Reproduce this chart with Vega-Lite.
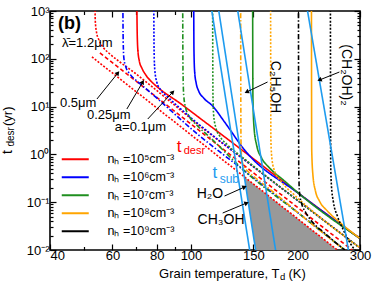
{
"$schema":"https://vega.github.io/schema/vega-lite/v6.json",
"width":310,"height":239,
"autosize":{"type":"none"},
"padding":{"left":50,"top":11,"right":16,"bottom":37},
"background":"white",
"config":{"view":{"stroke":"black","strokeWidth":1.6},"axis":{"domain":false,"grid":false,"tickColor":"black","tickWidth":1.2,"labelColor":"black","labelFont":"Liberation Sans","labelFontSize":13},"text":{"font":"Liberation Sans"}},
"datasets":{
"curves":[
{"id":"rS","nH":"nₕ =10⁵cm⁻³","case":"S","T":70.34,"t":1500},{"id":"rS","nH":"nₕ =10⁵cm⁻³","case":"S","T":70.48,"t":400},{"id":"rS","nH":"nₕ =10⁵cm⁻³","case":"S","T":70.8,"t":152.8},{"id":"rS","nH":"nₕ =10⁵cm⁻³","case":"S","T":71.49,"t":89.9},{"id":"rS","nH":"nₕ =10⁵cm⁻³","case":"S","T":72.66,"t":64.2},{"id":"rS","nH":"nₕ =10⁵cm⁻³","case":"S","T":74.57,"t":45.8},{"id":"rS","nH":"nₕ =10⁵cm⁻³","case":"S","T":77.52,"t":32.7},{"id":"rS","nH":"nₕ =10⁵cm⁻³","case":"S","T":81.65,"t":23.35},{"id":"rS","nH":"nₕ =10⁵cm⁻³","case":"S","T":92.93,"t":11.89},{"id":"rS","nH":"nₕ =10⁵cm⁻³","case":"S","T":105.81,"t":5.77},{"id":"rS","nH":"nₕ =10⁵cm⁻³","case":"S","T":141.7,"t":1.122},{"id":"rS","nH":"nₕ =10⁵cm⁻³","case":"S","T":202.4,"t":0.1484},{"id":"rS","nH":"nₕ =10⁵cm⁻³","case":"S","T":298.7,"t":0.01782},
{"id":"rD","nH":"nₕ =10⁵cm⁻³","case":"D","T":53.57,"t":1500},{"id":"rD","nH":"nₕ =10⁵cm⁻³","case":"D","T":53.68,"t":648},{"id":"rD","nH":"nₕ =10⁵cm⁻³","case":"D","T":54.1,"t":363.7},{"id":"rD","nH":"nₕ =10⁵cm⁻³","case":"D","T":54.98,"t":247.4},{"id":"rD","nH":"nₕ =10⁵cm⁻³","case":"D","T":56.42,"t":176.5},{"id":"rD","nH":"nₕ =10⁵cm⁻³","case":"D","T":59.04,"t":126},{"id":"rD","nH":"nₕ =10⁵cm⁻³","case":"D","T":62.99,"t":85.7},{"id":"rD","nH":"nₕ =10⁵cm⁻³","case":"D","T":69.44,"t":50.45},{"id":"rD","nH":"nₕ =10⁵cm⁻³","case":"D","T":81.65,"t":19.25},{"id":"rD","nH":"nₕ =10⁵cm⁻³","case":"D","T":105.81,"t":3.97},{"id":"rD","nH":"nₕ =10⁵cm⁻³","case":"D","T":141.7,"t":0.7635},{"id":"rD","nH":"nₕ =10⁵cm⁻³","case":"D","T":202.4,"t":0.1019},{"id":"rD","nH":"nₕ =10⁵cm⁻³","case":"D","T":298.7,"t":0.01133},
{"id":"rDA","nH":"nₕ =10⁵cm⁻³","case":"DA","T":55.32,"t":132.8},{"id":"rDA","nH":"nₕ =10⁵cm⁻³","case":"DA","T":141.7,"t":0.572},{"id":"rDA","nH":"nₕ =10⁵cm⁻³","case":"DA","T":202.4,"t":0.0724},{"id":"rDA","nH":"nₕ =10⁵cm⁻³","case":"DA","T":285.5,"t":0.0099},
{"id":"rD5","nH":"nₕ =10⁵cm⁻³","case":"D","T":52.54,"t":109.6},{"id":"rD5","nH":"nₕ =10⁵cm⁻³","case":"D","T":141.7,"t":0.3366},{"id":"rD5","nH":"nₕ =10⁵cm⁻³","case":"D","T":259,"t":0.01},
{"id":"bS","nH":"nₕ =10⁶cm⁻³","case":"S","T":101.8,"t":1500},{"id":"bS","nH":"nₕ =10⁶cm⁻³","case":"S","T":101.96,"t":152.8},{"id":"bS","nH":"nₕ =10⁶cm⁻³","case":"S","T":102.43,"t":52.9},{"id":"bS","nH":"nₕ =10⁶cm⁻³","case":"S","T":103.43,"t":31.2},{"id":"bS","nH":"nₕ =10⁶cm⁻³","case":"S","T":105.12,"t":21.2},{"id":"bS","nH":"nₕ =10⁶cm⁻³","case":"S","T":108.59,"t":15.13},{"id":"bS","nH":"nₕ =10⁶cm⁻³","case":"S","T":115.1,"t":10.29},{"id":"bS","nH":"nₕ =10⁶cm⁻³","case":"S","T":124.4,"t":4.76},{"id":"bS","nH":"nₕ =10⁶cm⁻³","case":"S","T":141.7,"t":1.236},{"id":"bS","nH":"nₕ =10⁶cm⁻³","case":"S","T":202.4,"t":0.1484},{"id":"bS","nH":"nₕ =10⁶cm⁻³","case":"S","T":298.7,"t":0.01782},
{"id":"bD","nH":"nₕ =10⁶cm⁻³","case":"D","T":78.53,"t":1500},{"id":"bD","nH":"nₕ =10⁶cm⁻³","case":"D","T":78.68,"t":152.8},{"id":"bD","nH":"nₕ =10⁶cm⁻³","case":"D","T":79.04,"t":58.3},{"id":"bD","nH":"nₕ =10⁶cm⁻³","case":"D","T":80.07,"t":32.7},{"id":"bD","nH":"nₕ =10⁶cm⁻³","case":"D","T":82.18,"t":22.25},{"id":"bD","nH":"nₕ =10⁶cm⁻³","case":"D","T":86,"t":15.88},{"id":"bD","nH":"nₕ =10⁶cm⁻³","case":"D","T":92.93,"t":9.35},{"id":"bD","nH":"nₕ =10⁶cm⁻³","case":"D","T":105.81,"t":4.12},{"id":"bD","nH":"nₕ =10⁶cm⁻³","case":"D","T":141.7,"t":0.7635},{"id":"bD","nH":"nₕ =10⁶cm⁻³","case":"D","T":202.4,"t":0.1019},{"id":"bD","nH":"nₕ =10⁶cm⁻³","case":"D","T":298.7,"t":0.01133},
{"id":"bDD","nH":"nₕ =10⁶cm⁻³","case":"DD","T":64.23,"t":1500},{"id":"bDD","nH":"nₕ =10⁶cm⁻³","case":"DD","T":64.36,"t":247.4},{"id":"bDD","nH":"nₕ =10⁶cm⁻³","case":"DD","T":64.65,"t":103.9},{"id":"bDD","nH":"nₕ =10⁶cm⁻³","case":"DD","T":65.5,"t":67.35},{"id":"bDD","nH":"nₕ =10⁶cm⁻³","case":"DD","T":67.22,"t":48.1},{"id":"bDD","nH":"nₕ =10⁶cm⁻³","case":"DD","T":70.34,"t":34.3},{"id":"bDD","nH":"nₕ =10⁶cm⁻³","case":"DD","T":76.52,"t":20.2},{"id":"bDD","nH":"nₕ =10⁶cm⁻³","case":"DD","T":105.81,"t":2.44},{"id":"bDD","nH":"nₕ =10⁶cm⁻³","case":"DD","T":141.7,"t":0.4494},{"id":"bDD","nH":"nₕ =10⁶cm⁻³","case":"DD","T":202.4,"t":0.0569},{"id":"bDD","nH":"nₕ =10⁶cm⁻³","case":"DD","T":272.8,"t":0.00972},
{"id":"gS","nH":"nₕ =10⁷cm⁻³","case":"S","T":149.3,"t":1500},{"id":"gS","nH":"nₕ =10⁷cm⁻³","case":"S","T":149.6,"t":13.74},{"id":"gS","nH":"nₕ =10⁷cm⁻³","case":"S","T":150.7,"t":3.57},{"id":"gS","nH":"nₕ =10⁷cm⁻³","case":"S","T":153.2,"t":1.573},{"id":"gS","nH":"nₕ =10⁷cm⁻³","case":"S","T":158.3,"t":0.841},{"id":"gS","nH":"nₕ =10⁷cm⁻³","case":"S","T":166.7,"t":0.5193},{"id":"gS","nH":"nₕ =10⁷cm⁻³","case":"S","T":183.7,"t":0.2776},{"id":"gS","nH":"nₕ =10⁷cm⁻³","case":"S","T":202.4,"t":0.1484},{"id":"gS","nH":"nₕ =10⁷cm⁻³","case":"S","T":298.7,"t":0.01782},
{"id":"gD","nH":"nₕ =10⁷cm⁻³","case":"D","T":115.1,"t":1500},{"id":"gD","nH":"nₕ =10⁷cm⁻³","case":"D","T":115.36,"t":17.48},{"id":"gD","nH":"nₕ =10⁷cm⁻³","case":"D","T":115.88,"t":6.67},{"id":"gD","nH":"nₕ =10⁷cm⁻³","case":"D","T":117.4,"t":3.74},{"id":"gD","nH":"nₕ =10⁷cm⁻³","case":"D","T":120.5,"t":2.43},{"id":"gD","nH":"nₕ =10⁷cm⁻³","case":"D","T":126.9,"t":1.573},{"id":"gD","nH":"nₕ =10⁷cm⁻³","case":"D","T":141.7,"t":0.801},{"id":"gD","nH":"nₕ =10⁷cm⁻³","case":"D","T":202.4,"t":0.1019},{"id":"gD","nH":"nₕ =10⁷cm⁻³","case":"D","T":298.7,"t":0.01133},
{"id":"gDD","nH":"nₕ =10⁷cm⁻³","case":"DD","T":94.76,"t":1500},{"id":"gDD","nH":"nₕ =10⁷cm⁻³","case":"DD","T":94.94,"t":58.3},{"id":"gDD","nH":"nₕ =10⁷cm⁻³","case":"DD","T":95.38,"t":17.48},{"id":"gDD","nH":"nₕ =10⁷cm⁻³","case":"DD","T":96.62,"t":9.35},{"id":"gDD","nH":"nₕ =10⁷cm⁻³","case":"DD","T":99.16,"t":6.06},{"id":"gDD","nH":"nₕ =10⁷cm⁻³","case":"DD","T":103.77,"t":4.12},{"id":"gDD","nH":"nₕ =10⁷cm⁻³","case":"DD","T":112.9,"t":2.31},{"id":"gDD","nH":"nₕ =10⁷cm⁻³","case":"DD","T":141.7,"t":0.4494},{"id":"gDD","nH":"nₕ =10⁷cm⁻³","case":"DD","T":202.4,"t":0.0569},{"id":"gDD","nH":"nₕ =10⁷cm⁻³","case":"DD","T":272.8,"t":0.00972},
{"id":"oS","nH":"nₕ =10⁸cm⁻³","case":"S","T":218.8,"t":1500},{"id":"oS","nH":"nₕ =10⁸cm⁻³","case":"S","T":219.2,"t":1.236},{"id":"oS","nH":"nₕ =10⁸cm⁻³","case":"S","T":220.9,"t":0.3707},{"id":"oS","nH":"nₕ =10⁸cm⁻³","case":"S","T":224.6,"t":0.1715},{"id":"oS","nH":"nₕ =10⁸cm⁻³","case":"S","T":230.5,"t":0.1059},{"id":"oS","nH":"nₕ =10⁸cm⁻³","case":"S","T":242.7,"t":0.0654},{"id":"oS","nH":"nₕ =10⁸cm⁻³","case":"S","T":262.4,"t":0.0385},{"id":"oS","nH":"nₕ =10⁸cm⁻³","case":"S","T":298.7,"t":0.01782},
{"id":"oD","nH":"nₕ =10⁸cm⁻³","case":"D","T":167.8,"t":1500},{"id":"oD","nH":"nₕ =10⁸cm⁻³","case":"D","T":168.1,"t":2},{"id":"oD","nH":"nₕ =10⁸cm⁻³","case":"D","T":169.4,"t":0.7635},{"id":"oD","nH":"nₕ =10⁸cm⁻³","case":"D","T":172.2,"t":0.4494},{"id":"oD","nH":"nₕ =10⁸cm⁻³","case":"D","T":180.2,"t":0.2645},{"id":"oD","nH":"nₕ =10⁸cm⁻³","case":"D","T":195.9,"t":0.1414},{"id":"oD","nH":"nₕ =10⁸cm⁻³","case":"D","T":245.9,"t":0.034},{"id":"oD","nH":"nₕ =10⁸cm⁻³","case":"D","T":298.7,"t":0.01133},
{"id":"oDD","nH":"nₕ =10⁸cm⁻³","case":"DD","T":138.1,"t":1500},{"id":"oDD","nH":"nₕ =10⁸cm⁻³","case":"DD","T":138.4,"t":2},{"id":"oDD","nH":"nₕ =10⁸cm⁻³","case":"DD","T":139,"t":0.841},{"id":"oDD","nH":"nₕ =10⁸cm⁻³","case":"DD","T":140.8,"t":0.572},{"id":"oDD","nH":"nₕ =10⁸cm⁻³","case":"DD","T":144.5,"t":0.4494},{"id":"oDD","nH":"nₕ =10⁸cm⁻³","case":"DD","T":152.2,"t":0.3208},{"id":"oDD","nH":"nₕ =10⁸cm⁻³","case":"DD","T":166.7,"t":0.1888},{"id":"oDD","nH":"nₕ =10⁸cm⁻³","case":"DD","T":202.4,"t":0.0569},{"id":"oDD","nH":"nₕ =10⁸cm⁻³","case":"DD","T":272.8,"t":0.00972},
{"id":"kD","nH":"nₕ =10⁹cm⁻³","case":"D","T":247.5,"t":1500},{"id":"kD","nH":"nₕ =10⁹cm⁻³","case":"D","T":248,"t":0.6},{"id":"kD","nH":"nₕ =10⁹cm⁻³","case":"D","T":249.1,"t":0.2289},{"id":"kD","nH":"nₕ =10⁹cm⁻³","case":"D","T":252.4,"t":0.1009},{"id":"kD","nH":"nₕ =10⁹cm⁻³","case":"D","T":259,"t":0.0514},{"id":"kD","nH":"nₕ =10⁹cm⁻³","case":"D","T":269.3,"t":0.0262},{"id":"kD","nH":"nₕ =10⁹cm⁻³","case":"D","T":283.6,"t":0.01272},{"id":"kD","nH":"nₕ =10⁹cm⁻³","case":"D","T":291.1,"t":0.00963},
{"id":"kDD","nH":"nₕ =10⁹cm⁻³","case":"DD","T":201.1,"t":1500},{"id":"kDD","nH":"nₕ =10⁹cm⁻³","case":"DD","T":201.5,"t":0.4716},{"id":"kDD","nH":"nₕ =10⁹cm⁻³","case":"DD","T":202.4,"t":0.1634},{"id":"kDD","nH":"nₕ =10⁹cm⁻³","case":"DD","T":205.1,"t":0.0962},{"id":"kDD","nH":"nₕ =10⁹cm⁻³","case":"DD","T":210.4,"t":0.0624},{"id":"kDD","nH":"nₕ =10⁹cm⁻³","case":"DD","T":220.2,"t":0.0385},{"id":"kDD","nH":"nₕ =10⁹cm⁻³","case":"DD","T":238.1,"t":0.02267},{"id":"kDD","nH":"nₕ =10⁹cm⁻³","case":"DD","T":272.8,"t":0.00972}
],
"sub":[
{"id":"L1","T":113.8,"t":1336},{"id":"L1","T":147.2,"t":0.00786},
{"id":"L2","T":119.1,"t":1336},{"id":"L2","T":153,"t":0.00786},
{"id":"L3","T":134.7,"t":1336},{"id":"L3","T":174.2,"t":0.00786},
{"id":"L4","T":211.9,"t":1336},{"id":"L4","T":279.8,"t":0.00786}
],
"gray":[{"T":141.5,"t":0.3366,"t2":0.3366},{"T":152.2,"t":0.2203,"t2":0.01},{"T":259,"t":0.01,"t2":0.01}],
"arrows":[
{"k":"a5","T":54.27,"t":14.42,"T2":62.18,"t2":50.45},
{"k":"a25","T":65.92,"t":8.906,"T2":73.11,"t2":32.7},
{"k":"a1","T":75.52,"t":5.502,"T2":88.85,"t2":20.2},
{"k":"c2","T":164.5,"t":32.7,"T2":143.6,"t2":20.2},
{"k":"ch2","T":262.4,"t":52.9,"T2":230.5,"t2":36},
{"k":"h2o","T":124.4,"t":0.1348,"T2":141.7,"t2":0.2079},
{"k":"ch3","T":122.9,"t":0.0594,"T2":143.6,"t2":0.0962}
],
"labels":[
{"k":"b","txt":"(b)","T":42.13,"t":535},
{"k":"lam","txt":"λ̄=1.2μm","T":43.24,"t":214.1},
{"k":"a5","txt":"0.5μm","T":42.68,"t":11.89},
{"k":"a25","txt":"0.25μm","T":50.85,"t":6.67},
{"k":"a1","txt":"a=0.1μm","T":60.98,"t":3.74},
{"k":"h2o","txt":"H₂O","T":103.77,"t":0.1484},
{"k":"ch3","txt":"CH₃OH","T":104.4,"t":0.0424},
{"k":"c2","txt":"C₂H₅OH","T":172.2,"t":25.7},
{"k":"ch2","txt":"(CH₂OH)₂","T":274.5,"t":45.8},
{"k":"td","txt":"t","T":91.19,"t":1.428},
{"k":"tds","txt":"desr","T":95.38,"t":1.178},
{"k":"ts","txt":"t","T":115.1,"t":0.408},
{"k":"tss","txt":"sub","T":120.5,"t":0.3057},
{"k":"x1","txt":"Grain temperature, T","T":177.8,"t":0.003146},
{"k":"x2","txt":"d","T":178.4,"t":0.002723},
{"k":"x3","txt":"(K)","T":188.5,"t":0.003146},
{"k":"y1","txt":"t","T":30.45,"t":1.019},
{"k":"y2","txt":"desr","T":31.06,"t":1.463},
{"k":"y3","txt":"(yr)","T":30.45,"t":3.928}
]
},
"resolve":{"axis":{"x":"independent","y":"independent"}},
"layer":[
{"data":{"name":"gray"},"mark":{"type":"area","color":"#999999","clip":true},
 "encoding":{
  "x":{"field":"T","type":"quantitative","scale":{"type":"log","domain":[40,300],"nice":false},"axis":{"orient":"bottom","values":[40,60,80,100,150,200,300],"format":"d","tickSize":-6,"labelPadding":5,"title":null,"labelFlush":false,"labelOverlap":false,"labelAlign":{"condition":{"test":"datum.value < 45","value":"left"},"value":"center"}}},
  "y":{"field":"t","type":"quantitative","scale":{"type":"log","domain":[0.01,1000],"nice":false},"axis":{"orient":"left","values":[0.01,0.1,1,10,100,1000],"tickSize":-6,"labelPadding":7,"title":null,"labelFlush":false,"labelOverlap":false,"labelExpr":"datum.value < 0.05 ? '10⁻²' : datum.value < 0.5 ? '10⁻¹' : datum.value < 5 ? '10⁰' : datum.value < 50 ? '10¹' : datum.value < 500 ? '10²' : '10³'"}},
  "y2":{"field":"t2"}}},
{"data":{"name":"curves"},"mark":{"type":"line","strokeWidth":1.6,"clip":true,"interpolate":"monotone"},
 "encoding":{
  "x":{"field":"T","type":"quantitative","scale":{"type":"log","domain":[40,300],"nice":false},"axis":{"orient":"bottom","values":[50,70,90],"labels":false,"tickSize":-3.5,"title":null}},
  "y":{"field":"t","type":"quantitative","scale":{"type":"log","domain":[0.01,1000],"nice":false},"axis":{"orient":"left","values":[0.02,0.03,0.04,0.05,0.06,0.07,0.08,0.09,0.2,0.3,0.4,0.5,0.6,0.7,0.8,0.9,2,3,4,5,6,7,8,9,20,30,40,50,60,70,80,90,200,300,400,500,600,700,800,900],"labels":false,"tickSize":-3,"title":null}},
  "color":{"field":"nH","type":"nominal","scale":{"domain":["nₕ =10⁵cm⁻³","nₕ =10⁶cm⁻³","nₕ =10⁷cm⁻³","nₕ =10⁸cm⁻³","nₕ =10⁹cm⁻³"],"range":["#ff0000","#0000ff","#1f8f1f","#ffa500","#000000"]},
   "legend":{"orient":"bottom-left","title":null,"offset":12,"padding":0,"symbolType":"M-3,0H3","symbolSize":81,"symbolStrokeWidth":2,"symbolOffset":7,"labelOffset":26,"labelFontSize":12.5,"labelFont":"Liberation Sans","labelColor":"black","rowPadding":5}},
  "strokeDash":{"field":"case","type":"nominal","scale":{"domain":["S","D","DD","DA"],"range":[[1,0],[2,1.6],[5,2,1.5,2],[4,2.5]]},"legend":null},
  "detail":{"field":"id"}}},
{"data":{"name":"sub"},"mark":{"type":"line","color":"#1e9bef","strokeWidth":1.6,"clip":true},
 "encoding":{
  "x":{"field":"T","type":"quantitative","scale":{"type":"log","domain":[40,300],"nice":false},"axis":{"orient":"top","values":[40,60,80,100,150,200,300],"labels":false,"tickSize":-6,"title":null}},
  "y":{"field":"t","type":"quantitative","scale":{"type":"log","domain":[0.01,1000],"nice":false},"axis":{"orient":"right","values":[0.01,0.1,1,10,100,1000],"labels":false,"tickSize":-6,"title":null}},
  "detail":{"field":"id"}}},
{"data":{"name":"arrows"},"mark":{"type":"rule","color":"black","strokeWidth":1},
 "encoding":{
  "x":{"field":"T","type":"quantitative","scale":{"type":"log","domain":[40,300],"nice":false},"axis":{"orient":"top","values":[50,70,90],"labels":false,"tickSize":-3.5,"title":null}},
  "y":{"field":"t","type":"quantitative","scale":{"type":"log","domain":[0.01,1000],"nice":false},"axis":{"orient":"right","values":[0.02,0.03,0.04,0.05,0.06,0.07,0.08,0.09,0.2,0.3,0.4,0.5,0.6,0.7,0.8,0.9,2,3,4,5,6,7,8,9,20,30,40,50,60,70,80,90,200,300,400,500,600,700,800,900],"labels":false,"tickSize":-3,"title":null}},
  "x2":{"field":"T2"},"y2":{"field":"t2"}}},
{"data":{"name":"arrows"},"transform":[{"filter":"datum.k=='a5'"}],"mark":{"type":"point","shape":"triangle-right","filled":true,"color":"black","opacity":1,"size":26,"angle":-51},"encoding":{"x":{"field":"T2","type":"quantitative","scale":{"type":"log","domain":[40,300],"nice":false},"axis":null},"y":{"field":"t2","type":"quantitative","scale":{"type":"log","domain":[0.01,1000],"nice":false},"axis":null}}},
{"data":{"name":"arrows"},"transform":[{"filter":"datum.k=='a25'"}],"mark":{"type":"point","shape":"triangle-right","filled":true,"color":"black","opacity":1,"size":26,"angle":-59},"encoding":{"x":{"field":"T2","type":"quantitative","scale":{"type":"log","domain":[40,300],"nice":false},"axis":null},"y":{"field":"t2","type":"quantitative","scale":{"type":"log","domain":[0.01,1000],"nice":false},"axis":null}}},
{"data":{"name":"arrows"},"transform":[{"filter":"datum.k=='a1'"}],"mark":{"type":"point","shape":"triangle-right","filled":true,"color":"black","opacity":1,"size":26,"angle":-47},"encoding":{"x":{"field":"T2","type":"quantitative","scale":{"type":"log","domain":[40,300],"nice":false},"axis":null},"y":{"field":"t2","type":"quantitative","scale":{"type":"log","domain":[0.01,1000],"nice":false},"axis":null}}},
{"data":{"name":"arrows"},"transform":[{"filter":"datum.k=='c2'"}],"mark":{"type":"point","shape":"triangle-right","filled":true,"color":"black","opacity":1,"size":26,"angle":154},"encoding":{"x":{"field":"T2","type":"quantitative","scale":{"type":"log","domain":[40,300],"nice":false},"axis":null},"y":{"field":"t2","type":"quantitative","scale":{"type":"log","domain":[0.01,1000],"nice":false},"axis":null}}},
{"data":{"name":"arrows"},"transform":[{"filter":"datum.k=='ch2'"}],"mark":{"type":"point","shape":"triangle-right","filled":true,"color":"black","opacity":1,"size":26,"angle":158},"encoding":{"x":{"field":"T2","type":"quantitative","scale":{"type":"log","domain":[40,300],"nice":false},"axis":null},"y":{"field":"t2","type":"quantitative","scale":{"type":"log","domain":[0.01,1000],"nice":false},"axis":null}}},
{"data":{"name":"arrows"},"transform":[{"filter":"datum.k=='h2o'"}],"mark":{"type":"point","shape":"triangle-right","filled":true,"color":"black","opacity":1,"size":26,"angle":-24},"encoding":{"x":{"field":"T2","type":"quantitative","scale":{"type":"log","domain":[40,300],"nice":false},"axis":null},"y":{"field":"t2","type":"quantitative","scale":{"type":"log","domain":[0.01,1000],"nice":false},"axis":null}}},
{"data":{"name":"arrows"},"transform":[{"filter":"datum.k=='ch3'"}],"mark":{"type":"point","shape":"triangle-right","filled":true,"color":"black","opacity":1,"size":26,"angle":-23},"encoding":{"x":{"field":"T2","type":"quantitative","scale":{"type":"log","domain":[40,300],"nice":false},"axis":null},"y":{"field":"t2","type":"quantitative","scale":{"type":"log","domain":[0.01,1000],"nice":false},"axis":null}}},
{"data":{"name":"labels"},"transform":[{"filter":"datum.k=='b'"}],"mark":{"type":"text","fontSize":18,"fontWeight":"bold","align":"left","baseline":"middle","color":"black"},"encoding":{"x":{"field":"T","type":"quantitative","scale":{"type":"log","domain":[40,300],"nice":false},"axis":null},"y":{"field":"t","type":"quantitative","scale":{"type":"log","domain":[0.01,1000],"nice":false},"axis":null},"text":{"field":"txt"}}},
{"data":{"name":"labels"},"transform":[{"filter":"indexof(['lam','a5','a25','a1'], datum.k) >= 0"}],"mark":{"type":"text","fontSize":13,"align":"left","baseline":"middle","color":"black"},"encoding":{"x":{"field":"T","type":"quantitative","scale":{"type":"log","domain":[40,300],"nice":false},"axis":null},"y":{"field":"t","type":"quantitative","scale":{"type":"log","domain":[0.01,1000],"nice":false},"axis":null},"text":{"field":"txt"}}},
{"data":{"name":"labels"},"transform":[{"filter":"indexof(['h2o','ch3'], datum.k) >= 0"}],"mark":{"type":"text","fontSize":14,"align":"left","baseline":"middle","color":"black"},"encoding":{"x":{"field":"T","type":"quantitative","scale":{"type":"log","domain":[40,300],"nice":false},"axis":null},"y":{"field":"t","type":"quantitative","scale":{"type":"log","domain":[0.01,1000],"nice":false},"axis":null},"text":{"field":"txt"}}},
{"data":{"name":"labels"},"transform":[{"filter":"indexof(['c2','ch2'], datum.k) >= 0"}],"mark":{"type":"text","fontSize":14,"align":"center","baseline":"middle","angle":90,"color":"black"},"encoding":{"x":{"field":"T","type":"quantitative","scale":{"type":"log","domain":[40,300],"nice":false},"axis":null},"y":{"field":"t","type":"quantitative","scale":{"type":"log","domain":[0.01,1000],"nice":false},"axis":null},"text":{"field":"txt"}}},
{"data":{"name":"labels"},"transform":[{"filter":"datum.k=='td'"}],"mark":{"type":"text","fontSize":17,"align":"left","baseline":"middle","color":"#ff0000"},"encoding":{"x":{"field":"T","type":"quantitative","scale":{"type":"log","domain":[40,300],"nice":false},"axis":null},"y":{"field":"t","type":"quantitative","scale":{"type":"log","domain":[0.01,1000],"nice":false},"axis":null},"text":{"field":"txt"}}},
{"data":{"name":"labels"},"transform":[{"filter":"datum.k=='tds'"}],"mark":{"type":"text","fontSize":11,"align":"left","baseline":"middle","color":"#ff0000"},"encoding":{"x":{"field":"T","type":"quantitative","scale":{"type":"log","domain":[40,300],"nice":false},"axis":null},"y":{"field":"t","type":"quantitative","scale":{"type":"log","domain":[0.01,1000],"nice":false},"axis":null},"text":{"field":"txt"}}},
{"data":{"name":"labels"},"transform":[{"filter":"datum.k=='ts'"}],"mark":{"type":"text","fontSize":17,"align":"left","baseline":"middle","color":"#1e9bef"},"encoding":{"x":{"field":"T","type":"quantitative","scale":{"type":"log","domain":[40,300],"nice":false},"axis":null},"y":{"field":"t","type":"quantitative","scale":{"type":"log","domain":[0.01,1000],"nice":false},"axis":null},"text":{"field":"txt"}}},
{"data":{"name":"labels"},"transform":[{"filter":"datum.k=='tss'"}],"mark":{"type":"text","fontSize":12,"align":"left","baseline":"middle","color":"#1e9bef"},"encoding":{"x":{"field":"T","type":"quantitative","scale":{"type":"log","domain":[40,300],"nice":false},"axis":null},"y":{"field":"t","type":"quantitative","scale":{"type":"log","domain":[0.01,1000],"nice":false},"axis":null},"text":{"field":"txt"}}},
{"data":{"name":"labels"},"transform":[{"filter":"datum.k=='x1'"}],"mark":{"type":"text","fontSize":13,"align":"right","baseline":"middle","color":"black"},"encoding":{"x":{"field":"T","type":"quantitative","scale":{"type":"log","domain":[40,300],"nice":false},"axis":null},"y":{"field":"t","type":"quantitative","scale":{"type":"log","domain":[0.01,1000],"nice":false},"axis":null},"text":{"field":"txt"}}},
{"data":{"name":"labels"},"transform":[{"filter":"datum.k=='x2'"}],"mark":{"type":"text","fontSize":9.5,"align":"left","baseline":"middle","color":"black"},"encoding":{"x":{"field":"T","type":"quantitative","scale":{"type":"log","domain":[40,300],"nice":false},"axis":null},"y":{"field":"t","type":"quantitative","scale":{"type":"log","domain":[0.01,1000],"nice":false},"axis":null},"text":{"field":"txt"}}},
{"data":{"name":"labels"},"transform":[{"filter":"datum.k=='x3'"}],"mark":{"type":"text","fontSize":13,"align":"left","baseline":"middle","color":"black"},"encoding":{"x":{"field":"T","type":"quantitative","scale":{"type":"log","domain":[40,300],"nice":false},"axis":null},"y":{"field":"t","type":"quantitative","scale":{"type":"log","domain":[0.01,1000],"nice":false},"axis":null},"text":{"field":"txt"}}},
{"data":{"name":"labels"},"transform":[{"filter":"indexof(['y1'], datum.k) >= 0"}],"mark":{"type":"text","fontSize":14,"align":"left","baseline":"middle","angle":-90,"color":"black"},"encoding":{"x":{"field":"T","type":"quantitative","scale":{"type":"log","domain":[40,300],"nice":false},"axis":null},"y":{"field":"t","type":"quantitative","scale":{"type":"log","domain":[0.01,1000],"nice":false},"axis":null},"text":{"field":"txt"}}},
{"data":{"name":"labels"},"transform":[{"filter":"datum.k=='y2'"}],"mark":{"type":"text","fontSize":10,"align":"left","baseline":"middle","angle":-90,"color":"black"},"encoding":{"x":{"field":"T","type":"quantitative","scale":{"type":"log","domain":[40,300],"nice":false},"axis":null},"y":{"field":"t","type":"quantitative","scale":{"type":"log","domain":[0.01,1000],"nice":false},"axis":null},"text":{"field":"txt"}}},
{"data":{"name":"labels"},"transform":[{"filter":"datum.k=='y3'"}],"mark":{"type":"text","fontSize":13,"align":"left","baseline":"middle","angle":-90,"color":"black"},"encoding":{"x":{"field":"T","type":"quantitative","scale":{"type":"log","domain":[40,300],"nice":false},"axis":null},"y":{"field":"t","type":"quantitative","scale":{"type":"log","domain":[0.01,1000],"nice":false},"axis":null},"text":{"field":"txt"}}}
]
}
